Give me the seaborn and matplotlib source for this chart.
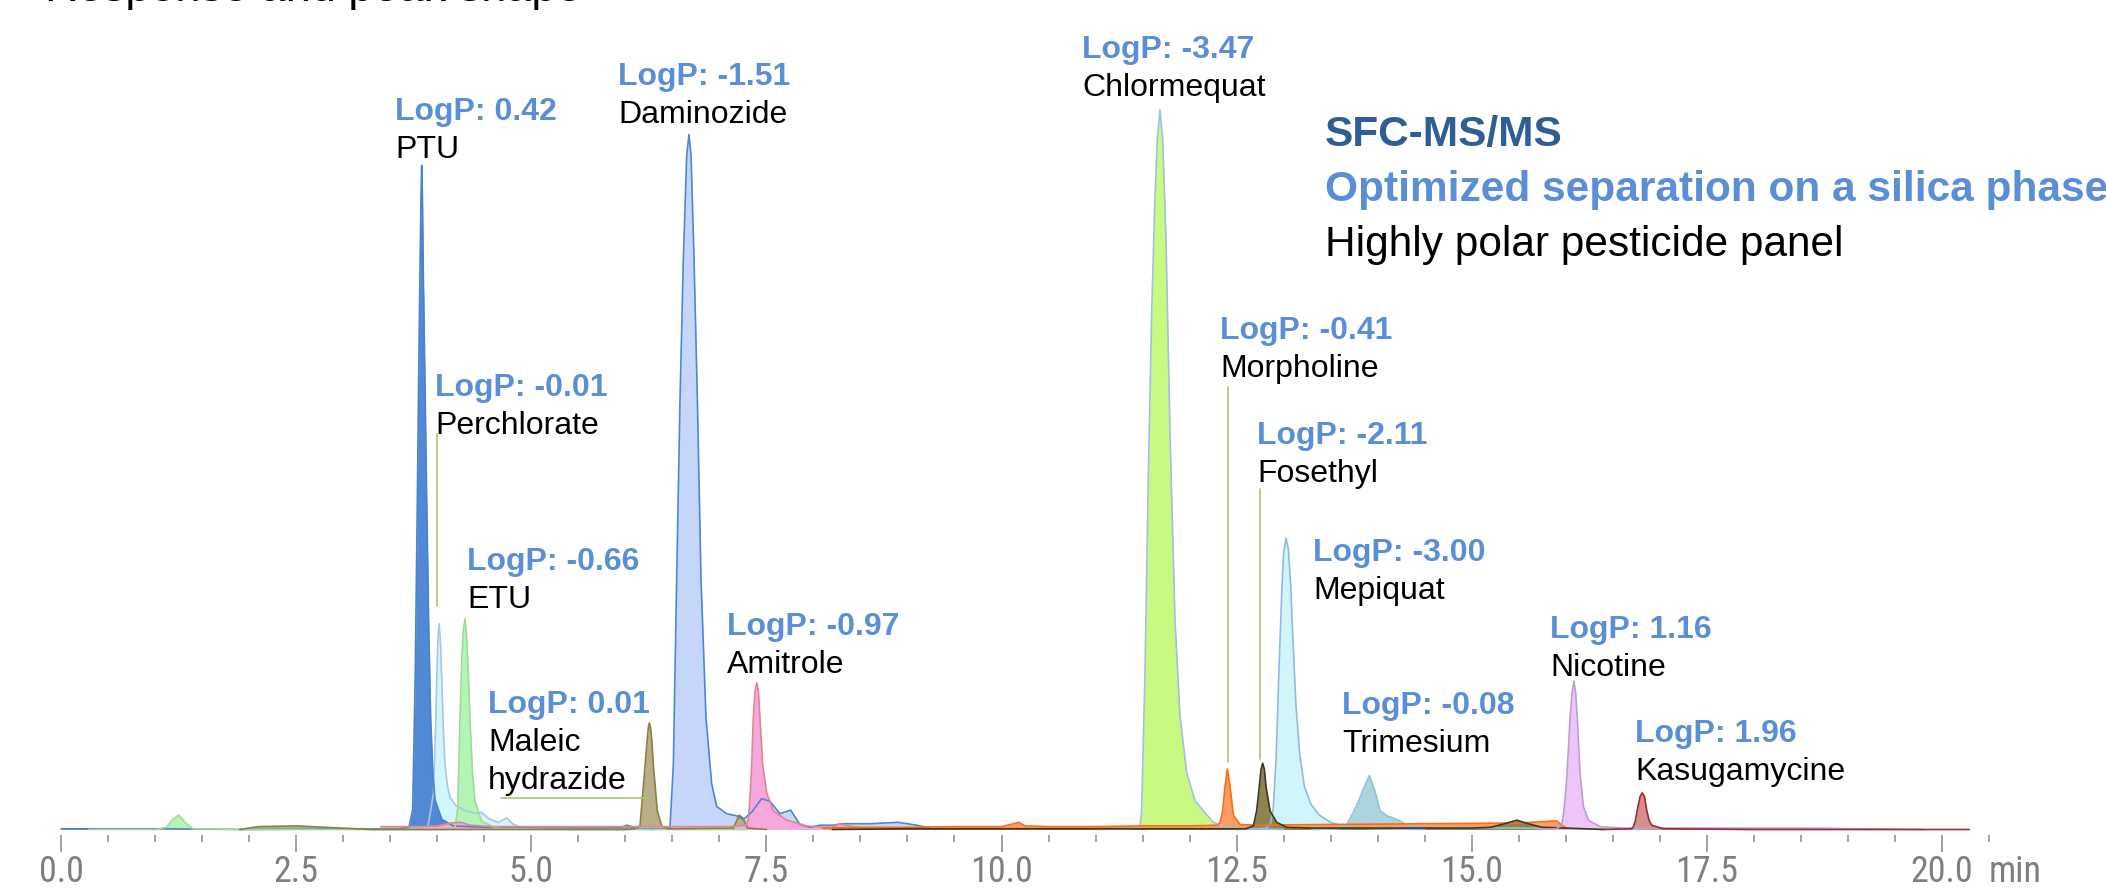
import numpy as np
import pandas as pd
import matplotlib
matplotlib.use("Agg")
import matplotlib.pyplot as plt
from matplotlib import font_manager
from matplotlib.font_manager import FontProperties
from matplotlib.ticker import FixedLocator, NullFormatter
import seaborn as sns

# ---------------- data (time in min, relative intensity in %) ----------------
ptu_t = [0.0, 1.0, 2.0, 3.0, 3.60, 3.70, 3.739, 3.765, 3.789, 3.805, 3.817, 3.828, 3.835,
         3.843, 3.852, 3.870, 3.888, 3.910, 3.931, 3.955, 3.977, 4.05, 4.17, 4.5, 5.0,
         5.8, 5.95, 6.02, 6.1, 6.3]
ptu_y = [0.1, 0.1, 0.0, 0.1, 0.1, 0.3, 2.8, 20.0, 46.0, 65.0, 77.5, 88.0, 92.3,
         88.0, 77.5, 62.0, 46.0, 28.0, 15.2, 7.5, 4.1, 1.4, 0.5, 0.3, 0.2,
         0.2, 0.3, 0.6, 0.1, 0.0]

perchlorate_t = [3.3, 3.9, 3.96, 3.985, 3.995, 4.010, 4.022, 4.035, 4.048, 4.065, 4.083,
                 4.11, 4.136, 4.20, 4.30, 4.42, 4.47, 4.55, 4.65, 4.74, 4.80, 4.90, 5.5]
perchlorate_y = [0.0, 0.3, 5.0, 15.0, 21.0, 27.0, 28.6, 26.0, 21.0, 14.0, 9.0,
                 6.0, 4.5, 3.3, 2.6, 2.2, 2.4, 1.5, 1.0, 1.6, 0.8, 0.2, 0.0]

etu_t = [0.3, 1.0, 1.12, 1.18, 1.25, 1.32, 1.40, 2.0, 3.0, 4.10, 4.19, 4.218, 4.242, 4.262,
         4.280, 4.296, 4.312, 4.330, 4.349, 4.375, 4.402, 4.47, 4.6, 4.7, 5.5, 7.3]
etu_y = [0.0, 0.0, 0.3, 1.3, 2.0, 1.0, 0.1, 0.0, 0.0, 0.0, 0.3, 2.8, 15.2, 24.0,
         28.0, 29.3, 27.0, 22.0, 15.2, 8.0, 4.0, 1.2, 0.3, 0.1, 0.0, 0.0]

maleic_t = [1.9, 2.1, 2.5, 3.3, 6.0, 6.10, 6.156, 6.191, 6.227, 6.245, 6.255, 6.268, 6.281,
            6.298, 6.34, 6.387, 6.45, 7.15, 7.21, 7.25, 7.30, 7.5]
maleic_y = [0.0, 0.4, 0.5, 0.0, 0.0, 0.1, 0.5, 5.8, 11.6, 14.2, 14.8, 14.2, 12.5,
            9.0, 2.6, 0.5, 0.1, 0.2, 2.0, 1.6, 0.2, 0.0]

daminozide_t = [5.9, 6.0, 6.05, 6.10, 6.45, 6.475, 6.511, 6.546, 6.582, 6.617, 6.653, 6.677,
                6.699, 6.731, 6.766, 6.805, 6.858, 6.918, 6.972, 7.078, 7.184, 7.255, 7.35,
                7.45, 7.539, 7.645, 7.758, 7.857, 7.964, 8.07, 8.21, 8.3, 8.6, 8.9, 9.1, 9.3]
daminozide_y = [0.0, 0.1, 0.5, 0.1, 0.1, 0.3, 9.0, 34.8, 59.9, 79.2, 93.7, 96.6,
                93.7, 79.2, 59.9, 34.8, 15.5, 6.4, 3.2, 2.2, 1.9, 1.4, 2.5,
                4.3, 3.9, 2.2, 2.7, 0.7, 0.3, 0.6, 0.6, 0.8, 0.8, 1.0, 0.6, 0.0]

amitrole_t = [3.4, 3.8, 4.0, 4.15, 4.25, 4.35, 4.6, 5.5, 6.5, 7.1, 7.29, 7.308, 7.328, 7.344,
              7.361, 7.380, 7.397, 7.415, 7.432, 7.461, 7.503, 7.574, 7.716, 7.93, 8.1, 8.2,
              8.28, 8.38, 8.6]
amitrole_y = [0.4, 0.4, 0.5, 0.9, 1.0, 0.6, 0.4, 0.4, 0.4, 0.4, 0.6, 1.3, 5.0, 9.0,
              15.5, 19.3, 20.4, 19.3, 15.5, 9.0, 5.1, 2.6, 1.3, 0.5, 0.3, 0.3,
              0.8, 0.5, 0.0]

chlormequat_t = [11.0, 11.4, 11.473, 11.49, 11.526, 11.561, 11.597, 11.632, 11.657, 11.685,
                 11.714, 11.749, 11.792, 11.845, 11.898, 11.969, 12.058, 12.146, 12.253,
                 12.395, 12.6, 13.0]
chlormequat_y = [0.0, 0.1, 0.5, 2.6, 22.0, 49.0, 72.0, 88.0, 96.0, 100.0,
                 96.0, 82.0, 55.0, 29.0, 15.8, 7.9, 4.0, 2.6, 1.0,
                 0.3, 0.1, 0.0]

morpholine_t = [8.1, 8.5, 9.0, 9.5, 10.0, 10.1, 10.18, 10.25, 10.5, 11.0, 11.5, 12.0, 12.3,
                12.324, 12.352, 12.377, 12.401, 12.430, 12.465, 12.536, 12.7, 13.5, 14.5,
                15.5, 15.9, 16.0]
morpholine_y = [0.2, 0.3, 0.3, 0.4, 0.4, 0.7, 1.0, 0.5, 0.4, 0.4, 0.5, 0.5, 0.6,
                1.0, 2.6, 6.0, 8.4, 6.0, 2.0, 0.7, 0.6, 0.7, 0.8,
                0.9, 1.2, 0.2]

fosethyl_t = [8.2, 9.0, 10.0, 11.0, 12.0, 12.6, 12.678, 12.713, 12.741, 12.760, 12.777,
              12.795, 12.812, 12.855, 12.926, 13.032, 13.3, 14.0, 15.0, 15.2, 15.35, 15.48,
              15.6, 15.75, 16.0, 16.4]
fosethyl_y = [0.0, 0.1, 0.1, 0.1, 0.1, 0.1, 0.5, 2.6, 6.0, 8.4, 9.2,
              8.4, 6.0, 2.6, 1.0, 0.3, 0.2, 0.2, 0.2, 0.3, 0.8, 1.3,
              0.8, 0.3, 0.2, 0.0]

mepiquat_t = [12.5, 12.82, 12.86, 12.89, 12.92, 12.95, 12.98, 13.0, 13.025, 13.05, 13.075,
              13.10, 13.13, 13.17, 13.22, 13.29, 13.38, 13.50, 13.67, 14.0, 14.5]
mepiquat_y = [0.0, 0.2, 0.8, 3.0, 10.0, 22.0, 33.0, 38.5, 40.5, 39.0, 34.0,
              26.0, 17.5, 10.5, 6.0, 3.5, 2.0, 1.0, 0.3, 0.1, 0.0]

trimesium_t = [13.3, 13.60, 13.670, 13.776, 13.847, 13.911, 13.972, 14.025, 14.10, 14.166,
               14.237, 14.343, 14.6, 15.5, 16.8]
trimesium_y = [0.0, 0.1, 0.6, 3.3, 5.6, 7.5, 5.3, 2.6, 1.9, 1.6,
               1.2, 0.4, 0.2, 0.2, 0.0]

nicotine_t = [15.7, 15.9, 15.956, 15.974, 15.99, 16.009, 16.027, 16.045, 16.066, 16.087,
              16.105, 16.123, 16.137, 16.151, 16.187, 16.240, 16.364, 16.6, 17.5, 18.5, 19.8]
nicotine_y = [0.0, 0.1, 0.6, 2.0, 4.0, 6.9, 11.0, 15.4, 19.0, 20.6,
              19.0, 15.4, 11.5, 7.9, 3.2, 1.3, 0.4, 0.2, 0.2, 0.2, 0.0]

kasugamycine_t = [16.4, 16.70, 16.718, 16.740, 16.760, 16.790, 16.813, 16.836, 16.86, 16.885,
                  16.913, 17.036, 18.0, 19.0, 20.29]
kasugamycine_y = [0.0, 0.1, 0.4, 1.2, 2.7, 4.6, 5.1, 4.6, 2.7, 1.3,
                  0.6, 0.1, 0.0, 0.0, 0.0]

# annotation text
names = ["PTU", "Daminozide", "Chlormequat", "Perchlorate", "ETU", "Maleic\nhydrazide",
         "Amitrole", "Morpholine", "Fosethyl", "Mepiquat", "Trimesium", "Nicotine",
         "Kasugamycine"]
logp = ["0.42", "-1.51", "-3.47", "-0.01", "-0.66", "0.01", "-0.97", "-0.41", "-2.11",
        "-3.00", "-0.08", "1.16", "1.96"]
x_ticks = [0.0, 2.5, 5.0, 7.5, 10.0, 12.5, 15.0, 17.5, 20.0]
x_tick_labels = ["0.0", "2.5", "5.0", "7.5", "10.0", "12.5", "15.0", "17.5", "20.0"]

# leader lines (time, intensity endpoints)
leader_x0 = [3.995, 4.68, 12.41, 12.752]
leader_x1 = [3.995, 6.29, 12.41, 12.752]
leader_y0 = [31.0, 4.4, 9.4, 9.8]
leader_y1 = [55.0, 4.4, 61.5, 47.3]

# ---------------- assemble ----------------
traces = [
    ("Daminozide", daminozide_t, daminozide_y, "#c6d6fa", "#4d86d6"),
    ("Perchlorate", perchlorate_t, perchlorate_y, "#d1f6fb", "#aac6e6"),
    ("PTU", ptu_t, ptu_y, "#5189d5", "#4a82d0"),
    ("ETU", etu_t, etu_y, "#b3f5b6", "#a3d896"),
    ("Maleic hydrazide", maleic_t, maleic_y, "#b9ae88", "#8b7f47"),
    ("Amitrole", amitrole_t, amitrole_y, "#f6a7dc", "#e0868f"),
    ("Chlormequat", chlormequat_t, chlormequat_y, "#c8fa82", "#a3bfe2"),
    ("Mepiquat", mepiquat_t, mepiquat_y, "#d0f6fb", "#93b8e4"),
    ("Trimesium", trimesium_t, trimesium_y, "#abd4df", "#8ec4d8"),
    ("Morpholine", morpholine_t, morpholine_y, "#fb9d64", "#ff6a12"),
    ("Fosethyl", fosethyl_t, fosethyl_y, "#8e8451", "#3b3924"),
    ("Nicotine", nicotine_t, nicotine_y, "#efc5f7", "#bb9ed2"),
    ("Kasugamycine", kasugamycine_t, kasugamycine_y, "#d68f8f", "#9c2b2b"),
]
df = pd.concat([pd.DataFrame({"compound": n, "time": t, "intensity": y})
                for n, t, y, _, _ in traces], ignore_index=True)

sns.set_theme(style="white")
plt.rcParams["font.family"] = ["Liberation Sans", "DejaVu Sans"]


def pick_narrow_font():
    entries = font_manager.fontManager.ttflist

    def regular(f):
        fn = f.fname.lower()
        return ("bold" not in fn and "italic" not in fn and "oblique" not in fn
                and "light" not in fn and "thin" not in fn and "medium" not in fn
                and "black" not in fn and "semibold" not in fn)

    for want in ["Liberation Sans Narrow", "Arial Narrow"]:
        for f in entries:
            if f.name == want and regular(f):
                return f.fname
    for fam in ["Noto Sans", "Open Sans", "Roboto", "DejaVu Sans"]:
        for f in entries:
            fn = f.fname.lower()
            if f.name.startswith(fam) and regular(f) and "condensed" in fn \
                    and "extra" not in fn and "semi" not in fn and "ultra" not in fn:
                return f.fname
    return None


narrow_path = pick_narrow_font()


def tick_font(size):
    if narrow_path:
        return FontProperties(fname=narrow_path, size=size)
    return FontProperties(family="Liberation Sans", size=size)


W, H = 2106, 888
fig = plt.figure(figsize=(W / 100, H / 100), dpi=100)
ax = fig.add_axes([0, 53 / H, 1, 835 / H])

for name, _, _, fc, ec in traces:
    sub = df[df["compound"] == name]
    ax.fill_between(sub["time"], 0, sub["intensity"], color=fc, lw=0, zorder=2)
    sns.lineplot(data=sub, x="time", y="intensity", color=ec, lw=1.2, ax=ax,
                 estimator=None, sort=False, legend=False, zorder=3)

for x0, x1, y0, y1 in zip(leader_x0, leader_x1, leader_y0, leader_y1):
    ax.plot([x0, x1], [y0, y1], color="#a6c76e", lw=1.2, zorder=4)

ax.set_xlim(-61 / 94.05, (W - 61) / 94.05)
ax.set_ylim(-5.5 / 7.195, 829.5 / 7.195)
for s in ax.spines.values():
    s.set_visible(False)
ax.set_yticks([])
ax.set_xlabel("")
ax.set_ylabel("")
ax.xaxis.set_major_locator(FixedLocator(x_ticks))
ax.set_xticklabels(x_tick_labels)
ax.xaxis.set_minor_locator(FixedLocator(list(np.arange(0, 20.51, 0.5))))
ax.xaxis.set_minor_formatter(NullFormatter())
tick_size = 26 if narrow_path else 24
ax.tick_params(axis="x", which="major", direction="out", length=12.2, width=1.1,
               color="#8a8a8a", pad=1.5, labelcolor="#7f7f7f", bottom=True)
ax.tick_params(axis="x", which="minor", direction="out", length=5.0, width=1.1,
               color="#8a8a8a", bottom=True)
for lab in ax.get_xticklabels():
    lab.set_fontproperties(tick_font(tick_size))
ax.annotate("min", xy=(20.5, 0), xycoords=("data", "axes fraction"), xytext=(0, -13.7),
            textcoords="offset points", ha="left", va="top", color="#7f7f7f",
            fontproperties=tick_font(tick_size))

# labels: (left x px, LogP baseline y px)
label_pos = [(395, 120), (618, 85), (1082, 58), (435, 396), (467, 570), (488, 713),
             (727, 635), (1220, 339), (1257, 444), (1313, 561), (1342, 714), (1550, 638),
             (1635, 742)]
blue = "#5a8fd8"
for nm, lp, (px, py) in zip(names, logp, label_pos):
    fig.text(px / W, 1 - py / H, f"LogP: {lp}", fontsize=23, fontweight="bold",
             color=blue, ha="left", va="baseline")
    for k, line in enumerate(nm.split("\n")):
        fig.text(px / W, 1 - (py + 38 * (k + 1)) / H, line, fontsize=23,
                 color="black", ha="left", va="baseline")

fig.text(1325 / W, 1 - 146 / H, "SFC-MS/MS", fontsize=30.5, fontweight="bold",
         color="#2f5e96", ha="left", va="baseline")
fig.text(1325 / W, 1 - 201 / H, "Optimized separation on a silica phase", fontsize=30.5,
         fontweight="bold", color=blue, ha="left", va="baseline")
fig.text(1325 / W, 1 - 256 / H, "Highly polar pesticide panel", fontsize=30.5,
         color="black", ha="left", va="baseline")
fig.text(45 / W, 1 - 1 / H, "Response and peak shape", fontsize=32.5, color="black",
         ha="left", va="baseline")

fig.savefig("out.png", dpi=100)
